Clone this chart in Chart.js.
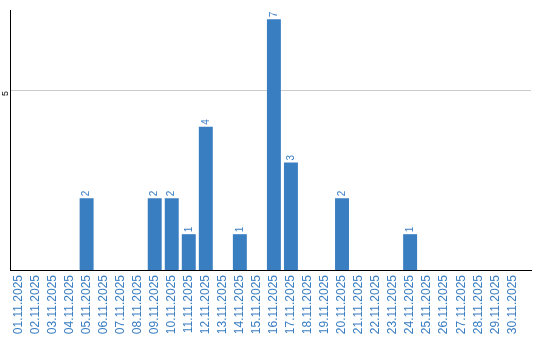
<!DOCTYPE html>
<html>
<head>
<meta charset="utf-8">
<script src="https://cdn.jsdelivr.net/npm/chart.js@4/dist/chart.umd.min.js"></script>
<style>
  html, body { margin: 0; padding: 0; background: #ffffff; }
  #c { display: block; }
</style>
</head>
<body>
<canvas id="c" width="540" height="340"></canvas>
<script>
const categories = [
  '01.11.2025','02.11.2025','03.11.2025','04.11.2025','05.11.2025','06.11.2025',
  '07.11.2025','08.11.2025','09.11.2025','10.11.2025','11.11.2025','12.11.2025',
  '13.11.2025','14.11.2025','15.11.2025','16.11.2025','17.11.2025','18.11.2025',
  '19.11.2025','20.11.2025','21.11.2025','22.11.2025','23.11.2025','24.11.2025',
  '25.11.2025','26.11.2025','27.11.2025','28.11.2025','29.11.2025','30.11.2025'
];
const counts = [0,0,0,0,2,0,0,0,2,2,1,4,0,1,0,7,3,0,0,2,0,0,0,1,0,0,0,0,0,0];
const yTickValues = [5];

const BLUE = '#3a7ec2';
const FONT = '"Liberation Sans", Arial, sans-serif';

const valueLabels = {
  id: 'valueLabels',
  afterDatasetsDraw(chart) {
    const ctx = chart.ctx;
    const meta = chart.getDatasetMeta(0);
    ctx.save();
    ctx.fillStyle = BLUE;
    ctx.font = '10px ' + FONT;
    ctx.textAlign = 'left';
    ctx.textBaseline = 'middle';
    meta.data.forEach((bar, i) => {
      const v = counts[i];
      if (!v) return;
      ctx.save();
      ctx.translate(bar.x, bar.y - 2);
      ctx.rotate(-Math.PI / 2);
      ctx.fillText(String(v), 0, 0);
      ctx.restore();
    });
    ctx.restore();
  }
};

new Chart(document.getElementById('c'), {
  type: 'bar',
  data: {
    labels: categories,
    datasets: [{
      data: counts,
      backgroundColor: BLUE,
      borderWidth: 0,
      barPercentage: 0.82,
      categoryPercentage: 1.0
    }]
  },
  options: {
    responsive: false,
    animation: false,
    devicePixelRatio: 1,
    layout: { padding: { top: 10, right: 9, left: 0, bottom: 0 } },
    plugins: { legend: { display: false }, tooltip: { enabled: false } },
    scales: {
      x: {
        grid: { display: false, drawTicks: false },
        border: { display: true, color: '#000000', width: 1 },
        ticks: {
          color: BLUE,
          font: { family: FONT, size: 12 },
          minRotation: 90,
          maxRotation: 90,
          autoSkip: false,
          padding: 5
        },
        afterBuildTicks: (s) => { s._valueRange = categories.length + 0.6; },
        afterFit: (s) => { s.height = 70; }
      },
      y: {
        min: 0,
        max: 7.26,
        grid: { color: '#cccccc', drawTicks: false, lineWidth: 1 },
        border: { display: true, color: '#000000', width: 1 },
        ticks: {
          color: '#000000',
          font: { family: FONT, size: 9 },
          minRotation: 90,
          maxRotation: 90,
          padding: 4
        },
        afterBuildTicks: (s) => { s.ticks = yTickValues.map(v => ({ value: v })); },
        afterFit: (s) => { s.width = 10; }
      }
    }
  },
  plugins: [valueLabels]
});
</script>
</body>
</html>
